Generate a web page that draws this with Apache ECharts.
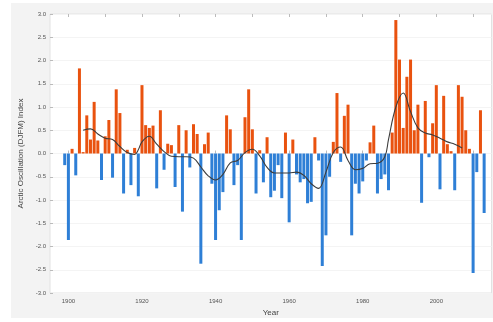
<!DOCTYPE html>
<html><head><meta charset="utf-8">
<script src="https://cdn.jsdelivr.net/npm/echarts@6/dist/echarts.min.js"></script>
<style>html,body{margin:0;padding:0;background:#fff}#c{width:493px;height:322px}</style>
</head><body><div id="c"></div>
<script>
const startYear = 1899;
const aoValues = [
 -0.25,-1.86,0.10,-0.47,1.83,0.03,0.82,0.30,1.11,0.28,
 -0.57,0.37,0.72,-0.52,1.38,0.87,-0.86,0.08,-0.68,0.12,
 -0.92,1.47,0.61,0.55,0.60,-0.75,0.93,-0.35,0.21,0.18,
 -0.72,0.61,-1.25,0.50,-0.30,0.63,0.42,-2.37,0.20,0.45,
 -0.65,-1.86,-1.22,-0.83,0.82,0.52,-0.68,-0.25,-1.86,0.78,
 1.38,0.52,-0.86,0.07,-0.62,0.35,-0.94,-0.80,-0.25,-0.96,
 0.45,-1.48,0.30,-0.45,-0.62,-0.55,-1.07,-1.04,0.35,-0.15,
 -2.42,-1.76,-0.50,0.25,1.30,-0.18,0.81,1.05,-1.76,-0.65,
 -0.86,-0.60,-0.15,0.24,0.60,-0.86,-0.55,-0.45,-0.79,0.45,
 2.87,2.02,0.55,1.65,2.02,0.50,1.05,-1.06,1.13,-0.08,
 0.65,1.47,-0.77,1.24,0.20,0.05,-0.79,1.47,1.22,0.50,
 0.10,-2.57,-0.40,0.93,-1.28
];
const smoothYears = [1904,1906,1908,1910,1912,1914,1916,1918,1919,1920,1922,1924,1926,1928,1930,1932,1934,1936,1938,1940,1942,1944,1946,1948,1950,1952,1954,1956,1958,1960,1962,1964,1966,1968,1970,1972,1974,1976,1978,1980,1982,1984,1986,1987,1989,1991,1993,1995,1997,1999,2001,2003,2005,2007];
const smoothValues = [0.50,0.53,0.42,0.33,0.30,0.15,0.02,-0.02,0.08,0.25,0.37,0.20,0.04,-0.06,-0.07,-0.07,-0.10,-0.29,-0.48,-0.57,-0.45,-0.20,-0.15,0.02,0.09,-0.05,-0.30,-0.42,-0.42,-0.42,-0.40,-0.47,-0.65,-0.75,-0.40,0.02,0.14,-0.15,-0.35,-0.32,-0.22,-0.21,-0.07,0.30,1.00,1.30,0.90,0.55,0.44,0.40,0.33,0.25,0.20,0.12];
const xTickYears = [1900,1910,1920,1930,1940,1950,1960,1970,1980,1990,2000,2010];
const xLabelYears = [1900,1920,1940,1960,1980,2000];

const barData = aoValues.map((v,i)=>[startYear+i, v]);
const lineData = smoothYears.map((y,i)=>[y, smoothValues[i]]);
const FONT = 'Liberation Sans';
const chart = echarts.init(document.getElementById('c'), null, {renderer:'canvas'});
chart.setOption({
  animation:false,
  backgroundColor:'#ffffff',
  graphic:[{type:'rect', z:-10, shape:{x:11,y:3,width:482,height:315}, style:{fill:'#f3f3f3'}}],
  grid:{left:50,right:1.5,top:14,bottom:29,show:true,backgroundColor:'#ffffff',borderColor:'#e2e2e2',borderWidth:1},
  xAxis:[{
    type:'value',min:1895,max:2015,position:'bottom',
    name:'Year',nameLocation:'middle',nameGap:12,
    nameTextStyle:{fontFamily:FONT,fontSize:8,color:'#444'},
    axisLine:{show:false},
    splitLine:{show:false},
    axisTick:{show:true,inside:true,length:3,customValues:xTickYears,lineStyle:{color:'#bbb'}},
    axisLabel:{customValues:xLabelYears,fontFamily:FONT,fontSize:6,color:'#555',margin:5,formatter:v=>String(v)}
  },{
    type:'value',min:1895,max:2015,position:'top',
    axisLine:{show:false},splitLine:{show:false},
    axisTick:{show:true,inside:true,length:3,customValues:xTickYears,lineStyle:{color:'#bbb'}},
    axisLabel:{show:false}
  }],
  yAxis:{
    type:'value',min:-3,max:3,interval:0.5,
    name:'Arctic Oscillation (DJFM) Index',nameLocation:'middle',nameGap:16,
    nameTextStyle:{fontFamily:FONT,fontSize:8,color:'#444'},
    axisLine:{show:false},
    axisTick:{show:true,inside:true,length:3,lineStyle:{color:'#bbb'}},
    splitLine:{show:true,lineStyle:{color:'#f4f4f4',width:1}},
    axisLabel:{fontFamily:FONT,fontSize:6,color:'#555',margin:4,formatter:v=>v.toFixed(1)}
  },
  series:[{
    type:'bar',xAxisIndex:0,data:barData,barWidth:3,
    itemStyle:{color:p=>p.value[1]>=0?'#e9520f':'#2e7fd6'}
  },{
    type:'line',xAxisIndex:0,data:lineData,smooth:0.4,symbol:'none',
    lineStyle:{color:'#3c3c3c',width:1.1},z:5
  }]
});
</script></body></html>
